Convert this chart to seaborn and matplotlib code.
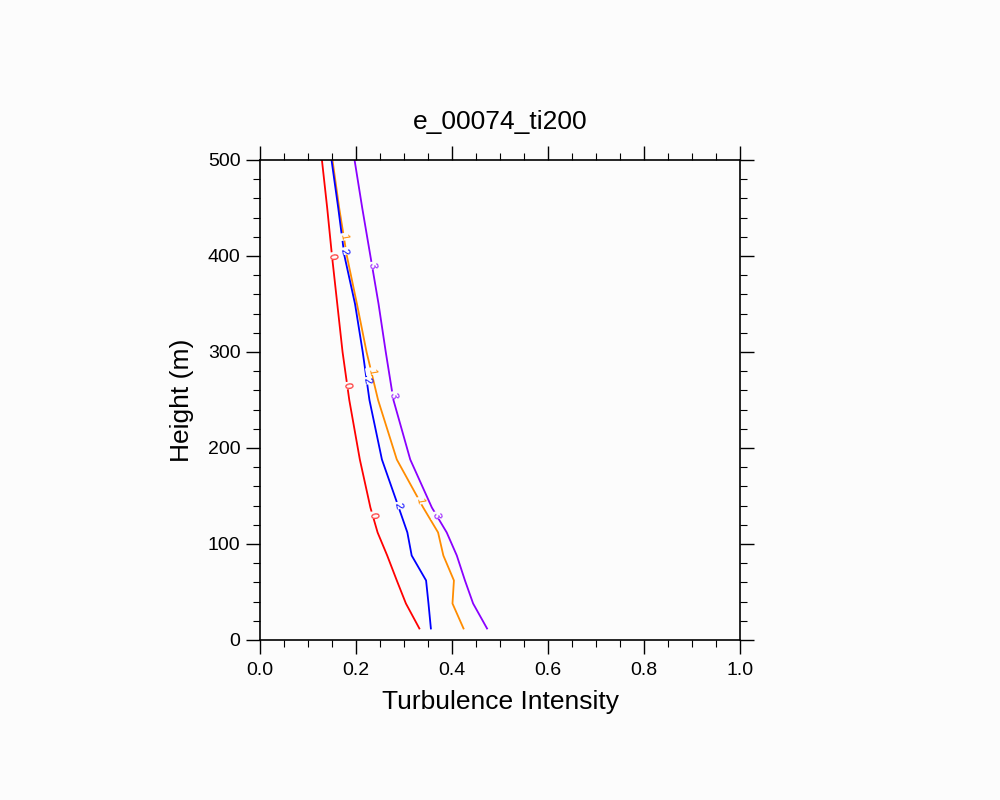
import matplotlib
matplotlib.use("Agg")
import matplotlib.pyplot as plt
import seaborn as sns
import pandas as pd
import numpy as np
from matplotlib.ticker import MultipleLocator

plt.rcParams["font.family"] = "Liberation Sans"

heights = [12, 38, 62, 88, 112, 138, 188, 250, 300, 350, 400, 450, 500]
ti_0 = [0.332, 0.304, 0.285, 0.265, 0.245, 0.230, 0.208, 0.186, 0.172, 0.161, 0.150, 0.140, 0.129]
ti_1 = [0.424, 0.401, 0.404, 0.382, 0.371, 0.340, 0.285, 0.246, 0.222, 0.202, 0.181, 0.165, 0.151]
ti_2 = [0.356, 0.351, 0.346, 0.316, 0.307, 0.289, 0.254, 0.228, 0.214, 0.198, 0.176, 0.163, 0.149]
ti_3 = [0.473, 0.444, 0.427, 0.410, 0.389, 0.358, 0.313, 0.278, 0.262, 0.247, 0.230, 0.213, 0.197]
series_names = ["0", "1", "2", "3"]
colors = ["#ff0000", "#ff8c00", "#0000ff", "#8a00ff"]
label_heights = {"0": [130, 265, 400], "1": [145, 280, 420], "2": [140, 270, 405], "3": [130, 255, 390]}

rows = []
for name, vals in zip(series_names, [ti_0, ti_1, ti_2, ti_3]):
    for h, v in zip(heights, vals):
        rows.append({"series": name, "h": h, "ti": v})
df = pd.DataFrame(rows)

fig = plt.figure(figsize=(10, 8), dpi=100, facecolor="#fcfcfc")
ax = fig.add_axes([0.26, 0.2, 0.48, 0.6])
ax.set_facecolor("#fcfcfc")
sns.lineplot(data=df, x="ti", y="h", hue="series", palette=colors, sort=False,
             estimator=None, legend=False, ax=ax, linewidth=1.3)

for name, c, vals in zip(series_names, colors, [ti_0, ti_1, ti_2, ti_3]):
    for lh in label_heights[name]:
        xv = np.interp(lh, heights, vals)
        ax.text(xv, lh, name, color=c, fontsize=8, rotation=-80, ha="center", va="center",
                bbox=dict(facecolor="#fcfcfc", edgecolor="none", pad=0.5))

ax.set_xlim(0, 1)
ax.set_ylim(0, 500)
ax.xaxis.set_major_locator(MultipleLocator(0.2))
ax.xaxis.set_minor_locator(MultipleLocator(0.05))
ax.yaxis.set_major_locator(MultipleLocator(100))
ax.yaxis.set_minor_locator(MultipleLocator(20))
ax.set_xticklabels([f"{v:.1f}" for v in ax.get_xticks()])
ax.tick_params(which="both", direction="out", top=True, right=True, labelsize=14)
ax.tick_params(which="major", length=10, width=1)
ax.tick_params(which="minor", length=5, width=0.8)
ax.tick_params(axis="x", pad=6)
ax.tick_params(axis="y", pad=4)
for s in ax.spines.values():
    s.set_linewidth(1.2)
ax.set_xlabel("Turbulence Intensity", fontsize=19, labelpad=8)
ax.set_ylabel("Height (m)", fontsize=19, labelpad=10)
ax.set_title("e_00074_ti200", fontsize=19, pad=22)
fig.savefig("out.png", dpi=100, facecolor=fig.get_facecolor())
